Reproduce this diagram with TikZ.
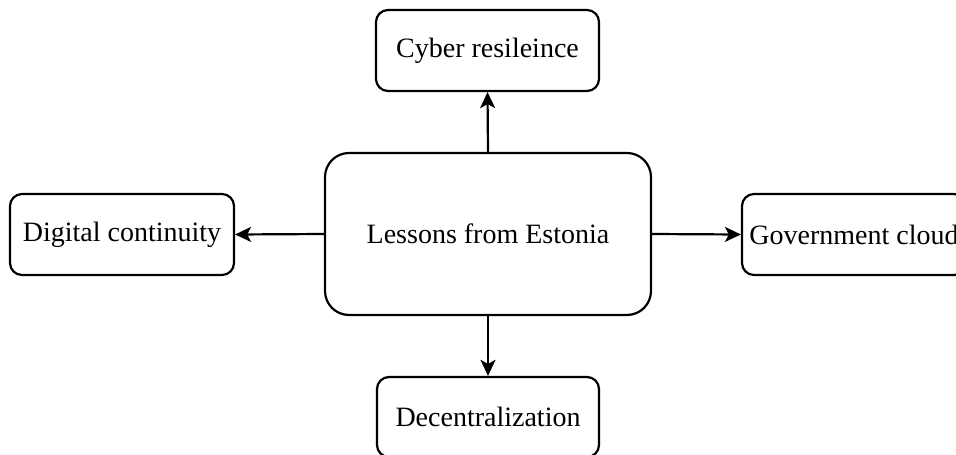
\documentclass[tikz,border=0pt]{standalone}
\usepackage{fontspec}
\setmainfont{Liberation Serif}
\usetikzlibrary{arrows.meta}
\begin{document}
\begin{tikzpicture}[x=1pt,y=-1pt,
  box/.style={draw=black, line width=2.2pt, fill=white, rounded corners=12pt,
    inner sep=0pt, align=center, font=\fontsize{28}{34}\selectfont},
  hub/.style={box, rounded corners=24pt},
  link/.style={line width=2.2pt, -{Stealth[length=16pt,width=15pt,inset=4pt]}}]
  % page frame
  \useasboundingbox (0,0) rectangle (956,455);
  \clip (0,0) rectangle (956,455);
  % central topic
  \node[hub, minimum width=326pt, minimum height=162pt] (hub) at (488,234) {Lessons from Estonia};
  % surrounding lessons
  \node[box, minimum width=223pt, minimum height=81pt] (cyber) at (487.5,50.5) {Cyber resileince};
  \node[box, minimum width=224pt, minimum height=81pt] (digital) at (122,234.5) {Digital continuity};
  \node[box, minimum width=224pt, minimum height=81pt] (cloud) at (854,234.5) {Government cloud};
  \node[box, minimum width=222pt, minimum height=80pt] (decentral) at (488,417) {Decentralization};
  % connectors
  \draw[link] (hub.north) -- (cyber.south);
  \draw[link] (hub.west) -- (digital.east);
  \draw[link] (hub.east) -- (cloud.west);
  \draw[link] (hub.south) -- (decentral.north);
\end{tikzpicture}
\end{document}
